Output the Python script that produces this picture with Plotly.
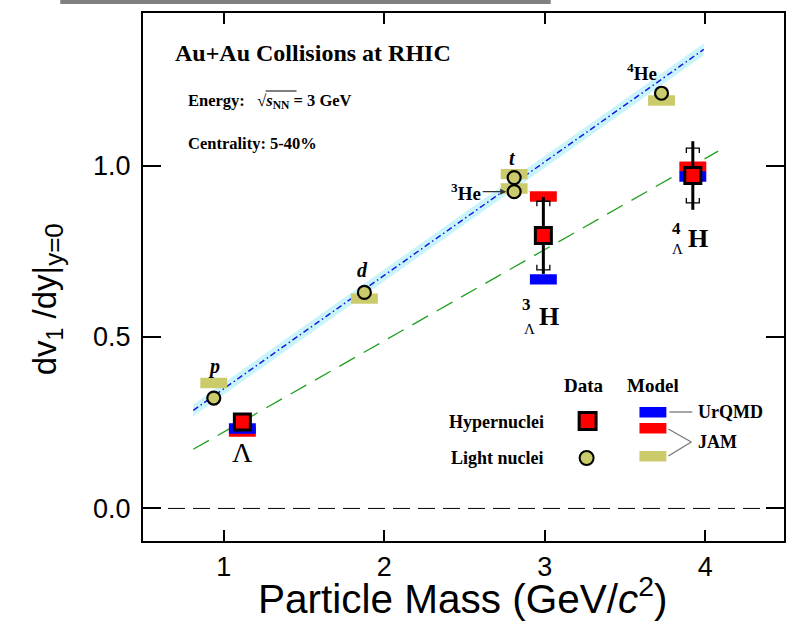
import numpy as np
import plotly.graph_objects as go

# ---------------- data ----------------
light_names = ["p", "d", "t", "3He", "4He"]
light_mass = [0.938, 1.876, 2.809, 2.809, 3.727]
light_v1 = [0.322, 0.630, 0.965, 0.924, 1.211]
light_jam = [0.366, 0.612, 0.975, 0.933, 1.190]

hyper_names = ["Lambda", "3LH", "4LH"]
hyper_mass = [1.116, 2.991, 3.922]
hyper_v1 = [0.252, 0.796, 0.971]
hyper_stat = [0.010, 0.112, 0.100]
hyper_sys = [0.0, 0.100, 0.080]
hyper_urqmd = [0.233, 0.668, 0.968]
hyper_jam = [0.224, 0.910, 0.997]

light_fit = [0.331, 0.018]        # slope, intercept
light_fit_err = 0.017
light_fit_range = [0.81, 3.99]
hyper_fit = [0.266, -0.043]
hyper_fit_range = [0.81, 4.08]

x_ticks = [1, 2, 3, 4]
y_ticks = [0.0, 0.5, 1.0]

# ---------------- geometry ----------------
W, H = 793, 621
L, R, T, B = 143, 7, 13, 80
XR = [0.497, 4.49]
YR = [-0.095, 1.445]
pw, ph = W - L - R, H - T - B
dx = (XR[1] - XR[0]) / pw
dy = (YR[1] - YR[0]) / ph


def px(x):
    return (x - L) / pw


def py(y):
    return (H - B - y) / ph


SERIF = "Liberation Serif"
SANS = "Liberation Sans"
KHAKI = "#cbcb6c"
RED = "#ff0000"
BLUE = "#0000ff"


def rects(xs, ys, hw, hh):
    X, Y = [], []
    for x, y in zip(xs, ys):
        X += [x - hw, x + hw, x + hw, x - hw, x - hw, None]
        Y += [y - hh, y - hh, y + hh, y + hh, y - hh, None]
    return X, Y


fig = go.Figure()

# light-nuclei fit band and line
m = np.linspace(light_fit_range[0], light_fit_range[1], 50)
fl = light_fit[0] * m + light_fit[1]
fig.add_trace(go.Scatter(x=list(m) + list(m[::-1]),
                         y=list(fl + light_fit_err) + list((fl - light_fit_err)[::-1]),
                         mode="lines", fill="toself", fillcolor="#c8f5fc",
                         line=dict(width=0), hoverinfo="skip", showlegend=False))
fig.add_trace(go.Scatter(x=m, y=fl, mode="lines",
                         line=dict(color="#1a1ae0", width=1.5, dash="6px,3px,1.5px,3px"),
                         hoverinfo="skip", showlegend=False))

# hypernuclei fit line
mh = np.linspace(hyper_fit_range[0], hyper_fit_range[1], 50)
fh = hyper_fit[0] * mh + hyper_fit[1]
fig.add_trace(go.Scatter(x=mh, y=fh, mode="lines",
                         line=dict(color="#22a022", width=1.3, dash="18px,10px"),
                         hoverinfo="skip", showlegend=False))

# model rectangles
hw, hh = 13.5 * dx, 5.2 * dy
for xs, ys, col in [(light_mass, light_jam, KHAKI),
                    (hyper_mass, hyper_jam, RED),
                    (hyper_mass, hyper_urqmd, BLUE)]:
    X, Y = rects(xs, ys, hw, hh)
    fig.add_trace(go.Scatter(x=X, y=Y, mode="lines", fill="toself", fillcolor=col,
                             line=dict(width=0), hoverinfo="skip", showlegend=False))

# systematic brackets
bw, bt = 6.5 * dx, 5 * dy
BX, BY = [], []
for x, y, s in zip(hyper_mass, hyper_v1, hyper_sys):
    if s <= 0:
        continue
    BX += [x - bw, x - bw, x + bw, x + bw, None, x - bw, x - bw, x + bw, x + bw, None]
    BY += [y + s - bt, y + s, y + s, y + s - bt, None, y - s + bt, y - s, y - s, y - s + bt, None]
fig.add_trace(go.Scatter(x=BX, y=BY, mode="lines", line=dict(color="black", width=1.3),
                         hoverinfo="skip", showlegend=False))

# data points
fig.add_trace(go.Scatter(x=light_mass, y=light_v1, mode="markers",
                         marker=dict(symbol="circle", size=13, color=KHAKI,
                                     line=dict(color="black", width=2.2)),
                         hoverinfo="skip", showlegend=False))
fig.add_trace(go.Scatter(x=hyper_mass, y=hyper_v1, mode="markers",
                         error_y=dict(type="data", array=hyper_stat, thickness=3,
                                      width=0, color="black"),
                         marker=dict(symbol="square", size=16, color=RED,
                                     line=dict(color="black", width=3)),
                         hoverinfo="skip", showlegend=False))

shapes = []
# zero line
shapes.append(dict(type="line", xref="paper", x0=0, x1=1, yref="y", y0=0, y1=0,
                   line=dict(color="black", width=1, dash="17px,8px"), layer="below"))
# gray bar at very top
shapes.append(dict(type="rect", xref="paper", yref="paper", x0=px(60), x1=px(552),
                   y0=py(4), y1=py(-3), fillcolor="#808080", line=dict(width=0)))
# sqrt overline
shapes.append(dict(type="line", xref="paper", yref="paper", x0=px(266), x1=px(297),
                   y0=py(91), y1=py(91), line=dict(color="black", width=1)))

# legend graphics
shapes.append(dict(type="rect", xref="paper", yref="paper", x0=px(580.5), x1=px(597.5),
                   y0=py(429.5), y1=py(412.5), fillcolor=RED, line=dict(color="black", width=3)))
shapes.append(dict(type="circle", xref="paper", yref="paper", x0=px(581), x1=px(595),
                   y0=py(465), y1=py(451), fillcolor=KHAKI, line=dict(color="black", width=2)))
for y0, col in [(407, BLUE), (423, RED), (451, KHAKI)]:
    shapes.append(dict(type="rect", xref="paper", yref="paper", x0=px(641), x1=px(668),
                       y0=py(y0 + 10.5), y1=py(y0), fillcolor=col, line=dict(width=0)))
for (x0, y0, x1, y1) in [(671, 412, 694, 412), (670, 429, 693, 442), (670, 456, 693, 442)]:
    shapes.append(dict(type="line", xref="paper", yref="paper", x0=px(x0), x1=px(x1),
                       y0=py(y0), y1=py(y1), line=dict(color="#777777", width=1.3)))

ann = []


def text(x, y, s, size, anchor="center", family=SERIF, **kw):
    ann.append(dict(xref="paper", yref="paper", x=px(x), y=py(y), text=s,
                    showarrow=False, xanchor=anchor, yanchor="middle",
                    font=dict(family=family, size=size, color="black"), **kw))


text(314, 53, "<b>Au+Au Collisions at RHIC</b>", 24)
text(186, 101, "<b>Energy:\u00a0\u00a0 √<i>s</i><sub>NN</sub> = 3 GeV</b>", 16.5, "left")
text(186, 143, "<b>Centrality: 5-40%</b>", 16.5, "left")

text(585, 385, "<b>Data</b>", 19)
text(655, 385, "<b>Model</b>", 19)
text(547, 422, "<b>Hypernuclei</b>", 18, "right")
text(547, 458, "<b>Light nuclei</b>", 18, "right")
text(698, 412, "<b>UrQMD</b>", 18, "left")
text(698, 442, "<b>JAM</b>", 18, "left")


def dlabel(x, y, s, size, xs=0, ys=0):
    ann.append(dict(xref="x", yref="y", x=x, y=y, text=s, showarrow=False,
                    xshift=xs, yshift=ys, xanchor="center", yanchor="middle",
                    font=dict(family=SERIF, size=size, color="black")))


dlabel(light_mass[0], light_v1[0], "<b><i>p</i></b>", 20, 0, 32)
dlabel(light_mass[1], light_v1[1], "<b><i>d</i></b>", 20, -2, 22)
dlabel(light_mass[2], light_v1[2], "<b><i>t</i></b>", 20, -2, 20)
dlabel(light_mass[4], light_v1[4], "<b><sup>4</sup>He</b>", 19, -20, 21)
ann.append(dict(xref="x", yref="y", x=light_mass[3] - 8 * dx, y=light_v1[3],
                text="<b><sup>3</sup>He</b>", showarrow=True, ax=-40, ay=0,
                arrowhead=2, arrowsize=1, arrowwidth=1.2, arrowcolor="#333333",
                font=dict(family=SERIF, size=19, color="black")))

dlabel(hyper_mass[0], hyper_v1[0], "Λ", 28, 0, -30)
dlabel(hyper_mass[1], hyper_v1[1], "<b>H</b>", 26, 6, -81)
dlabel(hyper_mass[1], hyper_v1[1], "<b>3</b>", 17, -17, -69)
dlabel(hyper_mass[1], hyper_v1[1], "Λ", 15, -14, -93)
dlabel(hyper_mass[2], hyper_v1[2], "<b>H</b>", 26, 5, -63)
dlabel(hyper_mass[2], hyper_v1[2], "<b>4</b>", 17, -16, -53)
dlabel(hyper_mass[2], hyper_v1[2], "Λ", 15, -15, -73)

# axis titles
text(47, 299, "dv<sub>1</sub> /dy|<sub><span style='font-size:26px'>y=0</span></sub>",
     33, "center", SANS, textangle=-90)
text(464, 596, "Particle Mass (GeV/<i>c</i><sup>2</sup>)", 40.5, "center", SANS)

axis_common = dict(showline=True, linecolor="black", linewidth=2, mirror="ticks",
                   ticks="inside", tickcolor="black", tickwidth=1.5,
                   showgrid=False, zeroline=False,
                   tickfont=dict(family=SANS, size=27, color="black"))
fig.update_layout(
    width=W, height=H, margin=dict(l=L, r=R, t=T, b=B),
    paper_bgcolor="white", plot_bgcolor="white",
    xaxis=dict(range=XR, tickvals=x_ticks, ticklen=11, ticklabelstandoff=1, **axis_common),
    yaxis=dict(range=YR, tickvals=y_ticks, tickformat=".1f", ticklen=18,
               ticklabelstandoff=5, **axis_common),
    shapes=shapes, annotations=ann, showlegend=False, hovermode=False,
)

fig.write_html("out.html", config={"displayModeBar": False},
               post_script="document.body.style.margin='0';document.body.style.overflow='hidden';")
